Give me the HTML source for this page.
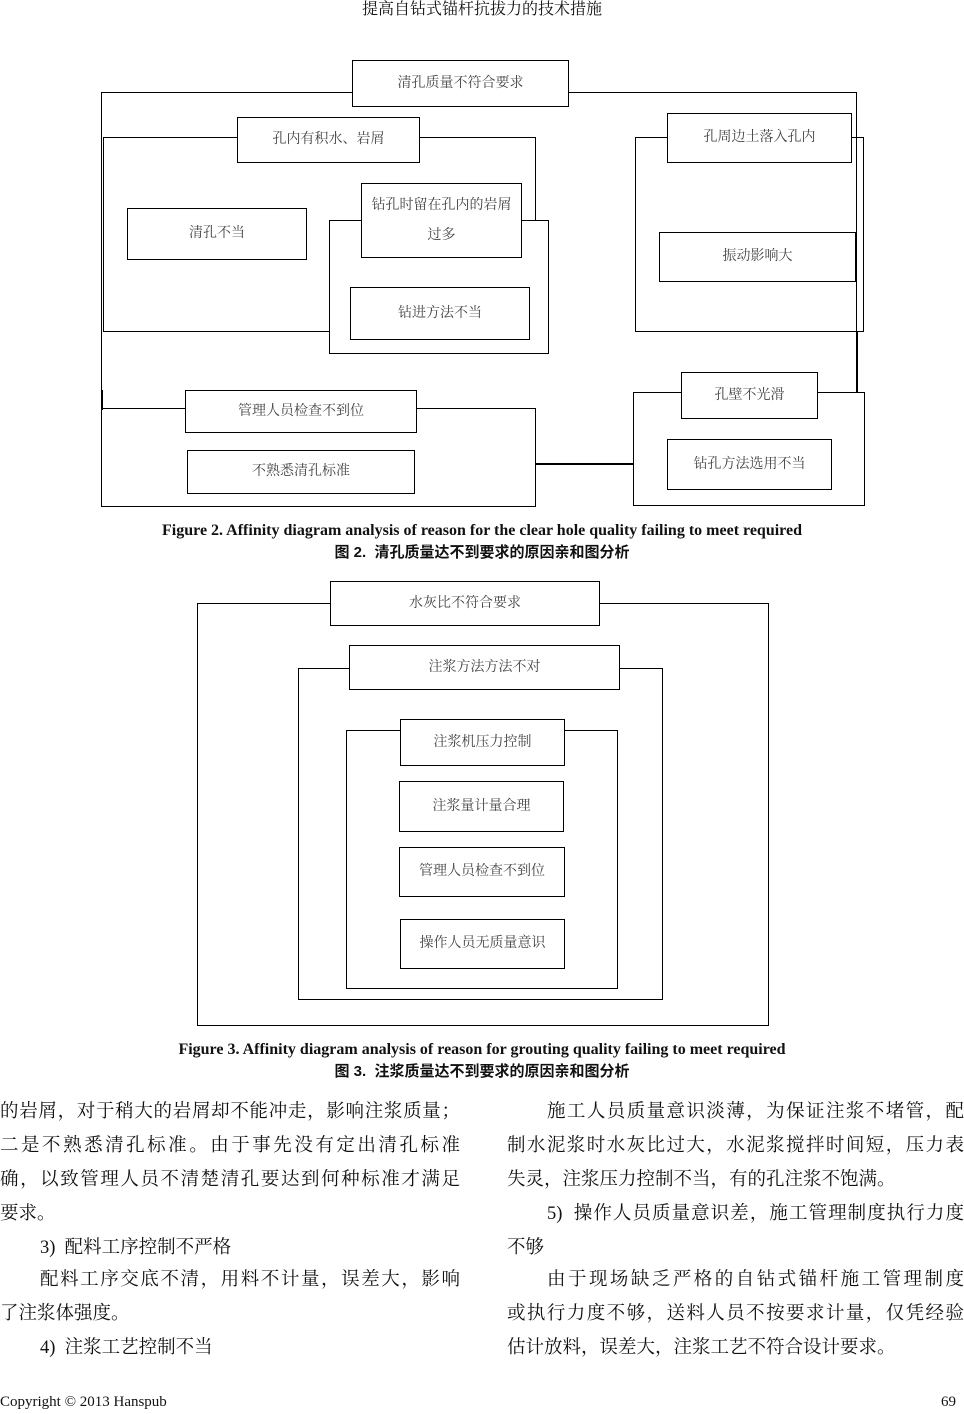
<!DOCTYPE html>
<html><head><meta charset="utf-8"><style>
body{margin:0;width:964px;height:1414px;background:#fff;position:relative;overflow:hidden;font-family:"Liberation Serif","Noto Serif CJK SC",serif;color:#111}
.b{position:absolute;box-sizing:border-box;border:1.5px solid #000;background:#fff;display:flex;align-items:center;justify-content:center;text-align:center;font-size:14px;color:#444;font-family:"Liberation Serif","Noto Serif CJK SC",serif;line-height:30px}
.f{position:absolute;box-sizing:border-box;border:1.5px solid #000}
.l{position:absolute;background:#000}
.c{position:absolute;left:0;width:964px;text-align:center;font-weight:bold;font-size:16px}
.t{position:absolute;font-size:18.5px;height:30px;line-height:30px;white-space:nowrap}
.j{text-align:justify;text-align-last:justify;width:460px}
.jr{text-align:justify;text-align-last:justify;width:457px}
</style></head><body>
<div style="position:absolute;top:0;left:0;width:964px;text-align:center;font-size:16px;line-height:20px">提高自钻式锚杆抗拔力的技术措施</div>

<!-- Figure 2 -->
<div class="f" style="left:101px;top:92px;width:756px;height:300px;border-bottom:none"></div>
<div class="l" style="left:101px;top:390px;width:1.5px;height:20px"></div>
<div class="b" style="left:352px;top:60px;width:217px;height:47px">清孔质量不符合要求</div>

<div class="f" style="left:103px;top:137px;width:433px;height:195px"></div>
<div class="b" style="left:237px;top:117px;width:183px;height:46px">孔内有积水、岩屑</div>
<div class="b" style="left:127px;top:208px;width:180px;height:52px">清孔不当</div>
<div class="f" style="left:329px;top:220px;width:220px;height:134px;background:#fff"></div>
<div class="b" style="left:361px;top:183px;width:161px;height:75px;line-height:30px">钻孔时留在孔内的岩屑<br>过多</div>
<div class="b" style="left:350px;top:287px;width:180px;height:53px">钻进方法不当</div>

<div class="f" style="left:635px;top:137px;width:229px;height:195px"></div>
<div class="b" style="left:667px;top:113px;width:185px;height:50px">孔周边土落入孔内</div>
<div class="b" style="left:659px;top:232px;width:197px;height:50px">振动影响大</div>
<div class="l" style="left:856px;top:331px;width:1.5px;height:62px"></div>

<div class="f" style="left:101px;top:408px;width:435px;height:99px"></div>
<div class="b" style="left:185px;top:390px;width:232px;height:43px">管理人员检查不到位</div>
<div class="b" style="left:187px;top:450px;width:228px;height:44px">不熟悉清孔标准</div>
<div class="l" style="left:535px;top:463px;width:99px;height:1.5px"></div>

<div class="f" style="left:633px;top:392px;width:232px;height:114px"></div>
<div class="b" style="left:681px;top:372px;width:137px;height:47px">孔壁不光滑</div>
<div class="b" style="left:667px;top:439px;width:165px;height:51px">钻孔方法选用不当</div>

<div class="c" style="top:522px">Figure 2. Affinity diagram analysis of reason for the clear hole quality failing to meet required</div>
<div class="c" style="top:541px;font-family:'Liberation Sans','Noto Sans CJK SC',sans-serif;font-size:15px">图 2.&nbsp; 清孔质量达不到要求的原因亲和图分析</div>

<!-- Figure 3 -->
<div class="f" style="left:197px;top:603px;width:572px;height:423px"></div>
<div class="b" style="left:330px;top:581px;width:270px;height:45px">水灰比不符合要求</div>
<div class="f" style="left:298px;top:668px;width:365px;height:332px"></div>
<div class="b" style="left:349px;top:645px;width:271px;height:45px">注浆方法方法不对</div>
<div class="f" style="left:346px;top:730px;width:272px;height:259px"></div>
<div class="b" style="left:400px;top:719px;width:165px;height:47px">注浆机压力控制</div>
<div class="b" style="left:399px;top:781px;width:165px;height:51px">注浆量计量合理</div>
<div class="b" style="left:399px;top:847px;width:166px;height:50px">管理人员检查不到位</div>
<div class="b" style="left:400px;top:919px;width:165px;height:50px">操作人员无质量意识</div>

<div class="c" style="top:1041px">Figure 3. Affinity diagram analysis of reason for grouting quality failing to meet required</div>
<div class="c" style="top:1060px;font-family:'Liberation Sans','Noto Sans CJK SC',sans-serif;font-size:15px">图 3.&nbsp; 注浆质量达不到要求的原因亲和图分析</div>

<!-- Body left -->
<div class="t j" style="left:0;top:1097px">的岩屑，对于稍大的岩屑却不能冲走，影响注浆质量；</div>
<div class="t j" style="left:0;top:1131px">二是不熟悉清孔标准。由于事先没有定出清孔标准</div>
<div class="t j" style="left:0;top:1165px">确，以致管理人员不清楚清孔要达到何种标准才满足</div>
<div class="t" style="left:0;top:1199px">要求。</div>
<div class="t" style="left:40px;top:1233px">3)&nbsp; 配料工序控制不严格</div>
<div class="t j" style="left:40px;top:1265px;width:420px">配料工序交底不清，用料不计量，误差大，影响</div>
<div class="t" style="left:0;top:1299px">了注浆体强度。</div>
<div class="t" style="left:40px;top:1333px">4)&nbsp; 注浆工艺控制不当</div>

<!-- Body right -->
<div class="t jr" style="left:547px;top:1097px;width:417px">施工人员质量意识淡薄，为保证注浆不堵管，配</div>
<div class="t jr" style="left:507px;top:1131px">制水泥浆时水灰比过大，水泥浆搅拌时间短，压力表</div>
<div class="t" style="left:507px;top:1165px">失灵，注浆压力控制不当，有的孔注浆不饱满。</div>
<div class="t jr" style="left:547px;top:1199px;width:417px">5)&nbsp; 操作人员质量意识差，施工管理制度执行力度</div>
<div class="t" style="left:507px;top:1233px">不够</div>
<div class="t jr" style="left:547px;top:1265px;width:417px">由于现场缺乏严格的自钻式锚杆施工管理制度</div>
<div class="t jr" style="left:507px;top:1299px">或执行力度不够，送料人员不按要求计量，仅凭经验</div>
<div class="t" style="left:507px;top:1333px">估计放料，误差大，注浆工艺不符合设计要求。</div>

<div style="position:absolute;left:0;top:1394px;font-size:15px">Copyright © 2013 Hanspub</div>
<div style="position:absolute;right:8px;top:1394px;font-size:15px">69</div>
</body></html>
